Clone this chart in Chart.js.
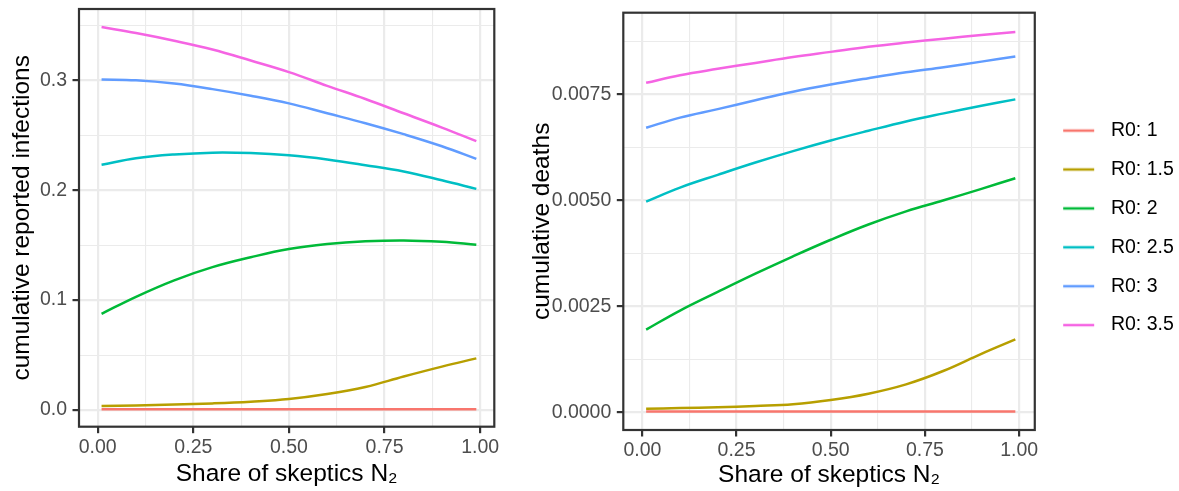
<!DOCTYPE html>
<html>
<head>
<meta charset="utf-8">
<script src="https://cdn.jsdelivr.net/npm/chart.js@4.4.0/dist/chart.umd.min.js"></script>
<style>
  html, body { margin: 0; padding: 0; background: #fff; }
  #wrap { position: relative; width: 1179px; height: 491px; }
  #infChart { position: absolute; left: 0; top: 0; }
  #deathChart { position: absolute; left: 520px; top: 0; }
</style>
</head>
<body>
<div id="wrap">
  <canvas id="infChart" width="520" height="491"></canvas>
  <canvas id="deathChart" width="659" height="491"></canvas>
</div>
<script>
// x values: share of skeptics N2
const shareSkeptics = [0.01, 0.1, 0.2, 0.3, 0.4, 0.5, 0.6, 0.7, 0.8, 0.9, 0.99];

const r0Labels = ["R0: 1", "R0: 1.5", "R0: 2", "R0: 2.5", "R0: 3", "R0: 3.5"];
const r0Colors = ["#F8766D", "#B79F00", "#00BA38", "#00BFC4", "#619CFF", "#F564E3"];

// cumulative reported infections (left panel)
const infR0_1   = [0.0006, 0.0006, 0.0006, 0.0006, 0.0006, 0.0006, 0.0006, 0.0006, 0.0006, 0.0006, 0.0006];
const infR0_1_5 = [0.0036, 0.0042, 0.0049, 0.0060, 0.0076, 0.0100, 0.0145, 0.021, 0.0305, 0.0395, 0.047];
const infR0_2   = [0.0875, 0.103, 0.118, 0.130, 0.139, 0.1465, 0.151, 0.1535, 0.1543, 0.153, 0.1504];
const infR0_2_5 = [0.2231, 0.229, 0.2325, 0.2342, 0.2338, 0.2318, 0.228, 0.2228, 0.217, 0.209, 0.2012];
const infR0_3   = [0.3008, 0.300, 0.297, 0.292, 0.286, 0.279, 0.270, 0.261, 0.251, 0.240, 0.2285];
const infR0_3_5 = [0.3485, 0.343, 0.336, 0.328, 0.318, 0.3075, 0.295, 0.283, 0.270, 0.257, 0.2446];

// cumulative deaths (right panel)
const deathR0_1   = [0.00002, 0.00002, 0.00002, 0.00002, 0.00002, 0.00002, 0.00002, 0.00002, 0.00002, 0.00002, 0.00002];
const deathR0_1_5 = [0.000085, 0.0001, 0.00012, 0.00015, 0.00019, 0.00029, 0.00044, 0.00066, 0.00098, 0.00138, 0.00172];
const deathR0_2   = [0.00195, 0.0024, 0.00284, 0.00327, 0.00368, 0.00407, 0.00443, 0.00474, 0.005, 0.00527, 0.00552];
const deathR0_2_5 = [0.00497, 0.0053, 0.0056, 0.00589, 0.00616, 0.00641, 0.00664, 0.00686, 0.00705, 0.00723, 0.00738];
const deathR0_3   = [0.00671, 0.00695, 0.00715, 0.00736, 0.00756, 0.00773, 0.00788, 0.00802, 0.00814, 0.00827, 0.00839];
const deathR0_3_5 = [0.00777, 0.00795, 0.0081, 0.00824, 0.00838, 0.0085, 0.00862, 0.00872, 0.00881, 0.0089, 0.00897];

// axis ticks
const xTicks = [0, 0.25, 0.5, 0.75, 1];
const xTickLabels = ["0.00", "0.25", "0.50", "0.75", "1.00"];
const infTicks = [0, 0.1, 0.2, 0.3];
const infTickLabels = ["0.0", "0.1", "0.2", "0.3"];
const deathTicks = [0, 0.0025, 0.005, 0.0075];
const deathTickLabels = ["0.0000", "0.0025", "0.0050", "0.0075"];

const infSeries = [infR0_1, infR0_1_5, infR0_2, infR0_2_5, infR0_3, infR0_3_5];
const deathSeries = [deathR0_1, deathR0_1_5, deathR0_2, deathR0_2_5, deathR0_3, deathR0_3_5];

Chart.defaults.font.family = '"Liberation Sans", Arial, Helvetica, sans-serif';

const isMajor = (majors, v) => majors.some(m => Math.abs(m - v) < 1e-9);

// major ticks plus the ggplot-style minor breaks halfway between them
function withMinors(majors, min, max) {
  const step = majors[1] - majors[0];
  const out = [];
  for (let v = majors[0] - step / 2; v <= max; v += step / 2) {
    if (v >= min) out.push(+v.toFixed(10));
  }
  return out;
}

function makeScale(majors, labels, min, max, fitSize, horizontal, title, titlePad) {
  return {
    type: "linear",
    min: min,
    max: max,
    afterBuildTicks: s => { s.ticks = withMinors(majors, min, max).map(v => ({ value: v })); },
    afterFit: s => {
      // fixed axis size, and no extra room for overhanging labels
      if (horizontal) s.height = fitSize; else s.width = fitSize;
      s.paddingTop = 0; s.paddingBottom = 0; s.paddingLeft = 0; s.paddingRight = 0;
    },
    ticks: {
      autoSkip: false,
      maxRotation: 0,
      padding: horizontal ? 2.5 : 5.5,
      color: "#4D4D4D",
      font: { size: 19.5 },
      callback: v => {
        const i = majors.findIndex(m => Math.abs(m - v) < 1e-9);
        return i >= 0 ? labels[i] : "";
      }
    },
    grid: {
      color: "#EBEBEB",
      lineWidth: c => (c.tick && isMajor(majors, c.tick.value)) ? 2.2 : 1.1,
      tickColor: c => (c.tick && isMajor(majors, c.tick.value)) ? "#333333" : "rgba(0,0,0,0)",
      tickWidth: 2.2,
      tickLength: 6.5
    },
    border: { display: false },
    title: {
      display: true,
      text: title,
      color: "#000",
      font: { size: 24.5 },
      padding: titlePad
    }
  };
}

const panelBorder = {
  id: "panelBorder",
  afterDatasetsDraw(chart) {
    const { ctx, chartArea: a } = chart;
    ctx.save();
    ctx.strokeStyle = "#333333";
    ctx.lineWidth = 2.2;
    ctx.strokeRect(a.left, a.top, a.right - a.left, a.bottom - a.top);
    ctx.restore();
  }
};

function makeDatasets(series) {
  return series.map((vals, i) => ({
    label: r0Labels[i],
    data: shareSkeptics.map((x, j) => ({ x: x, y: vals[j] })),
    borderColor: r0Colors[i],
    backgroundColor: r0Colors[i],
    borderWidth: 2.5,
    pointRadius: 0,
    tension: 0.4,
    order: series.length - i
  }));
}

// short coloured line used as the legend key
function legendSwatch(color) {
  const c = document.createElement("canvas");
  c.width = 47;
  c.height = 8;
  const g = c.getContext("2d");
  g.fillStyle = color;
  g.fillRect(9, 2.75, 31, 2.5);
  return c;
}

new Chart(document.getElementById("infChart"), {
  type: "line",
  data: { datasets: makeDatasets(infSeries) },
  options: {
    responsive: false,
    animation: false,
    layout: { padding: { top: 9, right: 25.7, left: 0, bottom: 0 } },
    plugins: { legend: { display: false }, tooltip: { enabled: false } },
    scales: {
      x: makeScale(xTicks, xTickLabels, -0.049, 1.037, 64.3, true, "Share of skeptics N\u2082", { top: 0, bottom: 2.3 }),
      y: makeScale(infTicks, infTickLabels, -0.0152, 0.3649, 79, false, "cumulative reported infections", { top: 8, bottom: 0 })
    }
  },
  plugins: [panelBorder]
});

new Chart(document.getElementById("deathChart"), {
  type: "line",
  data: { datasets: makeDatasets(deathSeries) },
  options: {
    responsive: false,
    animation: false,
    layout: { padding: { top: 12.7, right: -4.8, left: 0, bottom: 0 } },
    plugins: {
      tooltip: { enabled: false },
      legend: {
        position: "right",
        fullSize: false,
        title: { display: true, text: "", font: { size: 11, lineHeight: 1 }, padding: { top: 0, bottom: 2 } },
        labels: {
          usePointStyle: true,
          pointStyleWidth: 47,
          padding: 19.4,
          color: "#000",
          font: { size: 19.5 },
          generateLabels: chart => chart.data.datasets.map((ds, i) => ({
            text: ds.label,
            pointStyle: legendSwatch(ds.borderColor),
            fillStyle: ds.borderColor,
            strokeStyle: ds.borderColor,
            lineWidth: 0,
            fontColor: "#000",
            hidden: false,
            datasetIndex: i
          }))
        }
      }
    },
    scales: {
      x: makeScale(xTicks, xTickLabels, -0.0506, 1.0416, 61, true, "Share of skeptics N\u2082", { top: 0, bottom: 0.6 }),
      y: makeScale(deathTicks, deathTickLabels, -0.000417, 0.009424, 103.3, false, "cumulative deaths", { top: 8, bottom: 0 })
    }
  },
  plugins: [panelBorder]
});
</script>
</body>
</html>
